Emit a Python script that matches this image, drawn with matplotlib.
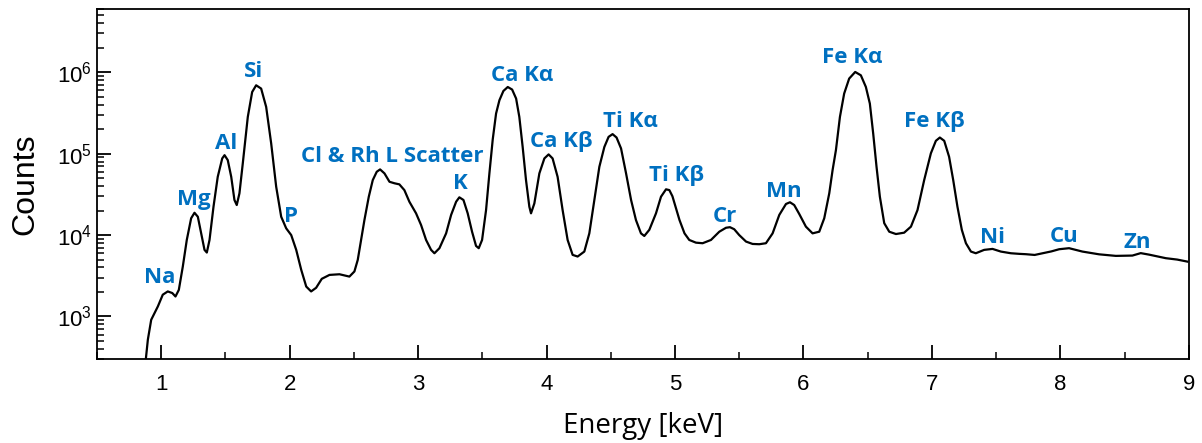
import numpy as np
import matplotlib
matplotlib.use('Agg')
import matplotlib.pyplot as plt
from matplotlib.ticker import LogLocator, MultipleLocator, NullFormatter

# spectrum
energy = [0.875, 0.896, 0.922, 0.948, 0.974, 1.012, 1.051, 1.086, 1.111, 1.137,
          1.168, 1.199, 1.233, 1.259, 1.285, 1.311, 1.337, 1.355, 1.376, 1.407,
          1.440, 1.475, 1.493, 1.518, 1.545, 1.570, 1.588, 1.609, 1.635, 1.674,
          1.708, 1.739, 1.778, 1.817, 1.856, 1.895, 1.934, 1.973, 2.012, 2.051,
          2.090, 2.129, 2.167, 2.206, 2.250, 2.310, 2.388, 2.465, 2.504, 2.530,
          2.556, 2.582, 2.616, 2.647, 2.678, 2.704, 2.738, 2.777, 2.816, 2.854,
          2.893, 2.932, 2.984, 3.023, 3.062, 3.101, 3.127, 3.166, 3.218, 3.257,
          3.296, 3.321, 3.353, 3.386, 3.420, 3.451, 3.472, 3.498, 3.529, 3.555,
          3.581, 3.607, 3.633, 3.664, 3.698, 3.732, 3.763, 3.788, 3.814, 3.840,
          3.866, 3.879, 3.905, 3.944, 3.983, 4.016, 4.047, 4.086, 4.125, 4.164,
          4.203, 4.242, 4.294, 4.333, 4.372, 4.411, 4.450, 4.483, 4.514, 4.545,
          4.580, 4.619, 4.658, 4.696, 4.735, 4.761, 4.800, 4.852, 4.891, 4.930,
          4.956, 4.980, 5.008, 5.035, 5.074, 5.111, 5.163, 5.215, 5.280, 5.345,
          5.397, 5.428, 5.461, 5.500, 5.553, 5.604, 5.656, 5.708, 5.760, 5.812,
          5.864, 5.895, 5.928, 5.967, 6.019, 6.071, 6.123, 6.162, 6.201, 6.227,
          6.253, 6.284, 6.317, 6.356, 6.403, 6.447, 6.486, 6.517, 6.543, 6.569,
          6.595, 6.629, 6.668, 6.720, 6.784, 6.837, 6.888, 6.940, 6.992, 7.031,
          7.062, 7.096, 7.134, 7.166, 7.199, 7.233, 7.265, 7.304, 7.342, 7.407,
          7.472, 7.537, 7.615, 7.679, 7.732, 7.800, 7.861, 7.930, 7.991, 8.068,
          8.172, 8.302, 8.432, 8.561, 8.626, 8.691, 8.821, 8.910, 8.989]
counts = [250, 520, 910, 1100, 1330, 1850, 2030, 1940, 1760, 2120,
          4100, 8710, 16100, 18800, 16800, 10500, 6580, 6100, 8710, 22300,
          52000, 87500, 95900, 83400, 52000, 27000, 23400, 32600, 76000, 283000,
          573000, 693000, 631000, 376000, 134000, 39300, 16800, 12100, 10000, 6580,
          3740, 2330, 2030, 2250, 2900, 3240, 3300, 3090, 3570, 4950,
          8710, 15300, 29600, 47400, 60000, 64100, 57300, 45200, 43300, 42000,
          35700, 25700, 18500, 13300, 8710, 6580, 5980, 6900, 10500, 17700,
          25700, 29100, 27000, 18500, 11000, 7360, 6900, 8710, 20300, 57300,
          150000, 312000, 454000, 590000, 660000, 614000, 476000, 283000, 121000, 47400,
          22300, 18500, 24500, 57300, 87500, 98000, 87500, 52000, 20300, 8710,
          5710, 5450, 6270, 10500, 27000, 69000, 121000, 161000, 174000, 158000,
          116000, 57300, 27000, 15300, 10500, 9750, 11600, 18500, 29600, 36500,
          35700, 30000, 21300, 15300, 10500, 8710, 8070, 7940, 8710, 11000,
          12300, 12500, 11800, 10000, 8320, 7780, 7720, 7940, 10500, 17700,
          24100, 25300, 23400, 18200, 12700, 10500, 11000, 16100, 32600, 63000,
          111000, 283000, 548000, 838000, 1010000, 919000, 661000, 413000, 177000, 69000,
          29600, 14000, 11000, 10300, 10700, 12700, 20300, 47400, 101000, 144000,
          158000, 144000, 91600, 47400, 22300, 11600, 7940, 6270, 5980, 6580,
          6760, 6270, 5980, 5880, 5820, 5700, 5980, 6300, 6700, 6900,
          6270, 5800, 5550, 5600, 6000, 5750, 5200, 5000, 4720]

# peak labels
labels = ['Na', 'Mg', 'Al', 'Si', 'P', 'Cl & Rh L Scatter', 'K', 'Ca K\u03b1',
          'Ca K\u03b2', 'Ti K\u03b1', 'Ti K\u03b2', 'Cr', 'Mn', 'Fe K\u03b1',
          'Fe K\u03b2', 'Ni', 'Cu', 'Zn']
label_x = [0.986, 1.254, 1.502, 1.717, 2.012, 2.797, 3.330, 3.808, 4.117,
           4.655, 5.011, 5.385, 5.851, 6.383, 7.019, 7.475, 8.028, 8.597]
label_y = [2990, 27000, 134000, 1.01e6, 16800, 91600, 43300, 919000, 140000,
           246000, 54600, 16800, 34100, 1.54e6, 246000, 9400, 9570, 8070]

plt.rcParams['font.family'] = ['Liberation Sans', 'DejaVu Sans']

fig = plt.figure(figsize=(12.02, 4.43), dpi=100)
ax = fig.add_axes([0.0807, 0.1896, 0.9083, 0.7901])

ax.plot(energy, counts, color='black', lw=1.6)

for t, x, y in zip(labels, label_x, label_y):
    ax.text(x, y, t, color='#0070C0', fontsize=16, fontweight='bold',
            family=['Open Sans', 'DejaVu Sans'], ha='center', va='center')

ax.set_yscale('log')
ax.set_xlim(0.5, 9)
ax.set_ylim(300, 6e6)

ax.xaxis.set_major_locator(MultipleLocator(1))
ax.xaxis.set_minor_locator(MultipleLocator(0.5))
ax.yaxis.set_major_locator(LogLocator(base=10, numticks=10))
ax.yaxis.set_minor_locator(LogLocator(base=10, subs=np.arange(2, 10), numticks=20))
ax.yaxis.set_minor_formatter(NullFormatter())

ax.tick_params(which='major', direction='in', length=10, width=1.3, labelsize=16)
ax.tick_params(which='minor', direction='in', length=5, width=1.1)
ax.tick_params(axis='x', pad=11)
for s in ax.spines.values():
    s.set_linewidth(1.3)

ax.set_xlabel('Energy [keV]', fontsize=20, family=['Open Sans', 'DejaVu Sans'], labelpad=12)
ax.set_ylabel('Counts', fontsize=23, labelpad=12)

fig.savefig('out.png', dpi=100)
